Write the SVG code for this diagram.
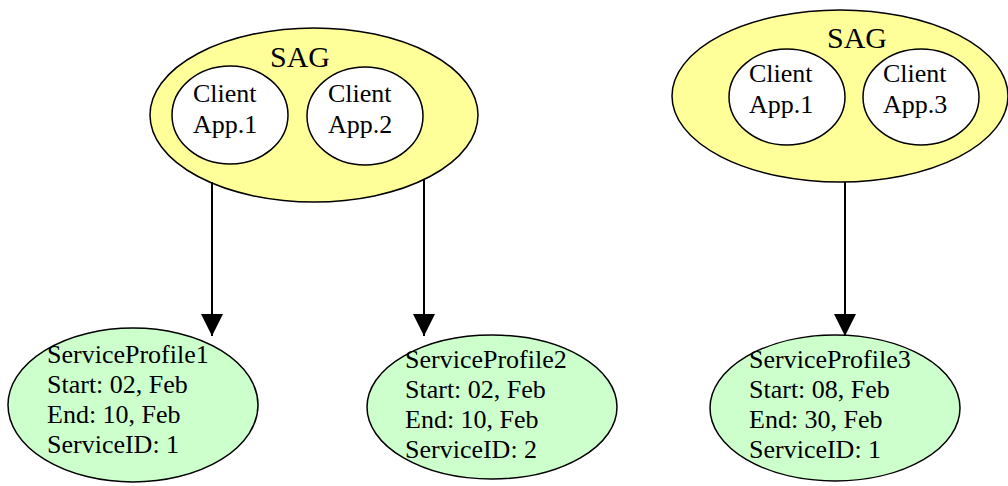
<svg xmlns="http://www.w3.org/2000/svg" width="1008" height="486" viewBox="0 0 1008 486">
<style>
text{font-family:"Liberation Serif","Times New Roman",serif;fill:#000}
.t{font-size:26px}
.sag{font-size:30px}
.y{fill:#FFFF99;stroke:#000;stroke-width:1.5}
.w{fill:#FFFFFF;stroke:#000;stroke-width:1.5}
.g{fill:#CCFFCC;stroke:#000;stroke-width:1.5}
.c{stroke:#000;stroke-width:2;fill:none}
</style>
<defs>
<marker id="ah" viewBox="0 0 22 22" refX="22" refY="11" markerWidth="22" markerHeight="22" markerUnits="userSpaceOnUse" orient="auto">
<path d="M0,0 L22,11 L0,22 Z" fill="#000"/>
</marker>
</defs>
<rect width="1008" height="486" fill="#fff"/>
<g id="sag1">
<ellipse class="y" cx="314" cy="115" rx="164" ry="87"/>
<text class="sag" x="270" y="67">SAG</text>
</g>
<g id="client1a">
<ellipse class="w" cx="230" cy="115" rx="58" ry="49"/>
<text class="t" x="193" y="102">Client</text>
<text class="t" x="193" y="133">App.1</text>
</g>
<g id="client2">
<ellipse class="w" cx="365" cy="116" rx="58" ry="49"/>
<text class="t" x="328" y="102">Client</text>
<text class="t" x="328" y="133">App.2</text>
</g>
<g id="sag2">
<ellipse class="y" cx="840" cy="96" rx="168" ry="86"/>
<text class="sag" x="827" y="48">SAG</text>
</g>
<g id="client1b">
<ellipse class="w" cx="787" cy="97" rx="58" ry="48"/>
<text class="t" x="749" y="82">Client</text>
<text class="t" x="749" y="113">App.1</text>
</g>
<g id="client3">
<ellipse class="w" cx="921" cy="97" rx="58" ry="48"/>
<text class="t" x="883" y="82">Client</text>
<text class="t" x="883" y="113">App.3</text>
</g>
<g id="sp1">
<ellipse class="g" cx="133" cy="405" rx="125" ry="77"/>
<text class="t" x="47" y="363">ServiceProfile1</text>
<text class="t" x="47" y="393">Start: 02, Feb</text>
<text class="t" x="47" y="423">End: 10, Feb</text>
<text class="t" x="47" y="453">ServiceID: 1</text>
</g>
<g id="sp2">
<ellipse class="g" cx="492" cy="407" rx="125" ry="72"/>
<text class="t" x="405" y="368">ServiceProfile2</text>
<text class="t" x="405" y="398">Start: 02, Feb</text>
<text class="t" x="405" y="428">End: 10, Feb</text>
<text class="t" x="405" y="458">ServiceID: 2</text>
</g>
<g id="sp3">
<ellipse class="g" cx="835" cy="408" rx="125" ry="73"/>
<text class="t" x="749" y="368">ServiceProfile3</text>
<text class="t" x="749" y="398">Start: 08, Feb</text>
<text class="t" x="749" y="428">End: 30, Feb</text>
<text class="t" x="749" y="458">ServiceID: 1</text>
</g>
<g id="connectors">
<line class="c" x1="212" y1="182" x2="212" y2="336" marker-end="url(#ah)"/>
<line class="c" x1="424" y1="180" x2="424" y2="336" marker-end="url(#ah)"/>
<line class="c" x1="845" y1="182" x2="845" y2="336" marker-end="url(#ah)"/>
</g>
</svg>
